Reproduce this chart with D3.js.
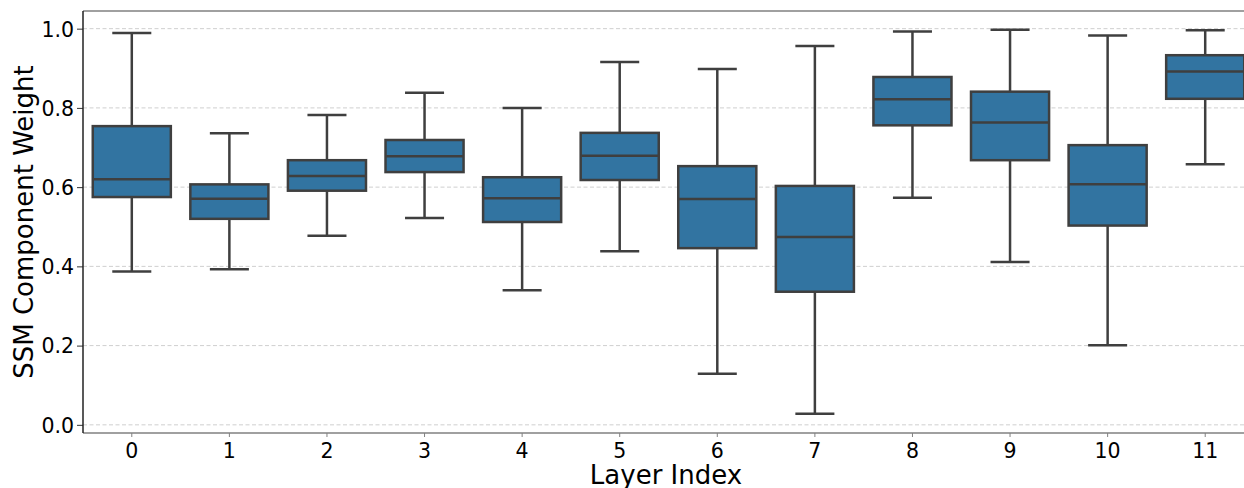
<!DOCTYPE html>
<html><head><meta charset="utf-8">
<script src="https://cdn.jsdelivr.net/npm/d3@7"></script>
<style>body{margin:0;background:#fff;} svg{display:block;} text{font-family:"DejaVu Sans",sans-serif;}</style>
</head><body><svg id="c" width="1244" height="488"></svg>
<script>
const layers = ["0","1","2","3","4","5","6","7","8","9","10","11"];
const whiskerLow = [0.387,0.393,0.477,0.522,0.340,0.438,0.129,0.028,0.573,0.411,0.201,0.658];
const q1 =         [0.575,0.520,0.591,0.638,0.512,0.618,0.446,0.336,0.756,0.668,0.503,0.823];
const median =     [0.620,0.571,0.628,0.678,0.572,0.679,0.570,0.474,0.822,0.763,0.607,0.892];
const q3 =         [0.754,0.607,0.668,0.719,0.625,0.737,0.653,0.603,0.878,0.841,0.706,0.933];
const whiskerHigh =[0.989,0.736,0.782,0.838,0.800,0.916,0.898,0.956,0.993,0.997,0.983,0.996];
const yTicks = [0.0,0.2,0.4,0.6,0.8,1.0];

const svg = d3.select("#c");
const L=83, R=1254, T=11, B=433;
const x = d3.scaleBand().domain(layers).range([L,R]).paddingInner(0).paddingOuter(0);
const y = d3.scaleLinear().domain([-0.0206,1.0446]).range([B,T]);
const line="#3f3f3f", fill="#3274a1";

// grid
svg.append("g").selectAll("line").data(yTicks).join("line")
  .attr("x1",L).attr("x2",R).attr("y1",d=>y(d)).attr("y2",d=>y(d))
  .attr("stroke","#cfcfcf").attr("stroke-width",1).attr("stroke-dasharray","4,2.5");

const data = layers.map((k,i)=>({k,lo:whiskerLow[i],q1:q1[i],med:median[i],q3:q3[i],hi:whiskerHigh[i]}));
const bw = x.bandwidth();
const g = svg.append("g");
data.forEach(d=>{
  const cx = x(d.k)+bw/2;
  const boxW = bw*0.8, capW = bw*0.4;
  g.append("line").attr("x1",cx).attr("x2",cx).attr("y1",y(d.hi)).attr("y2",y(d.q3)).attr("stroke",line).attr("stroke-width",2.5);
  g.append("line").attr("x1",cx).attr("x2",cx).attr("y1",y(d.q1)).attr("y2",y(d.lo)).attr("stroke",line).attr("stroke-width",2.5);
  g.append("line").attr("x1",cx-capW/2).attr("x2",cx+capW/2).attr("y1",y(d.hi)).attr("y2",y(d.hi)).attr("stroke",line).attr("stroke-width",2.5);
  g.append("line").attr("x1",cx-capW/2).attr("x2",cx+capW/2).attr("y1",y(d.lo)).attr("y2",y(d.lo)).attr("stroke",line).attr("stroke-width",2.5);
  g.append("rect").attr("x",cx-boxW/2).attr("width",boxW).attr("y",y(d.q3)).attr("height",y(d.q1)-y(d.q3))
    .attr("fill",fill).attr("stroke",line).attr("stroke-width",2.5);
  g.append("line").attr("x1",cx-boxW/2).attr("x2",cx+boxW/2).attr("y1",y(d.med)).attr("y2",y(d.med)).attr("stroke",line).attr("stroke-width",2.5);
});

// axes
const xa = svg.append("g").attr("transform",`translate(0,${B})`)
  .call(d3.axisBottom(x).tickSize(4).tickPadding(6));
xa.select(".domain").remove();
xa.selectAll(".tick line").attr("stroke","#808080");
xa.selectAll("text").attr("font-size",20.5).attr("fill","#000").attr("font-family","DejaVu Sans");

const ya = svg.append("g").attr("transform",`translate(${L},0)`)
  .call(d3.axisLeft(y).tickValues(yTicks).tickFormat(d3.format(".1f")).tickSize(6).tickPadding(3));
ya.select(".domain").remove();
ya.selectAll(".tick line").attr("stroke","#333");
ya.selectAll("text").attr("font-size",20.5).attr("fill","#000").attr("font-family","DejaVu Sans").attr("dy","0.36em");

// spines
svg.append("line").attr("x1",L).attr("x2",R).attr("y1",T).attr("y2",T).attr("stroke","#808080").attr("stroke-width",1.5);
svg.append("line").attr("x1",L).attr("x2",R).attr("y1",B).attr("y2",B).attr("stroke","#808080").attr("stroke-width",1.5);
svg.append("line").attr("x1",L).attr("x2",L).attr("y1",T).attr("y2",B).attr("stroke","#222").attr("stroke-width",1.5);

// labels
svg.append("text").attr("x",666).attr("y",484).attr("text-anchor","middle").attr("font-size",26).text("Layer Index");
svg.append("text").attr("transform",`translate(33,${(T+B)/2}) rotate(-90)`).attr("text-anchor","middle").attr("font-size",26).text("SSM Component Weight");
</script></body></html>
